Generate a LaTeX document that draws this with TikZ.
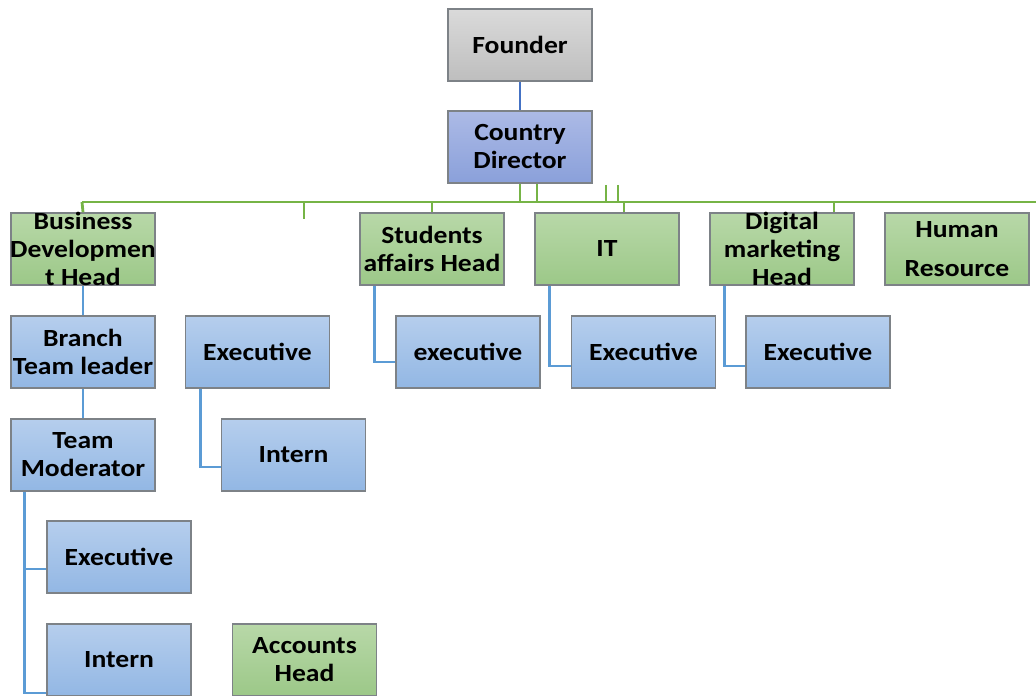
\documentclass[tikz,border=0pt]{standalone}
\usepackage{fontspec}
\setmainfont{Carlito}[FakeStretch=1.12]
\usetikzlibrary{calc}
\definecolor{greenTop}{RGB}{184,216,168}
\definecolor{greenBot}{RGB}{156,200,136}
\definecolor{blueTop}{RGB}{182,206,237}
\definecolor{blueBot}{RGB}{146,183,228}
\definecolor{grayTop}{RGB}{218,218,218}
\definecolor{grayBot}{RGB}{190,190,190}
\definecolor{dirTop}{RGB}{172,186,230}
\definecolor{dirBot}{RGB}{138,160,218}
\definecolor{boxedge}{RGB}{125,130,135}
\definecolor{busgreen}{RGB}{118,180,70}
\definecolor{linkblue}{RGB}{91,155,213}
\definecolor{topblue}{RGB}{68,114,196}
\begin{document}
\begin{tikzpicture}[x=0.75pt,y=-0.75pt,
  box/.style={draw=boxedge, line width=1.2pt, minimum width=108pt, minimum height=54pt, inner sep=0pt, shading angle=0},
  gbox/.style={box, top color=greenTop, bottom color=greenBot},
  bbox/.style={box, top color=blueTop, bottom color=blueBot},
  fbox/.style={box, top color=grayTop, bottom color=grayBot},
  dbox/.style={box, top color=dirTop, bottom color=dirBot},
  lbl/.style={font=\bfseries\fontsize{18.5}{21}\selectfont, align=center, text=black, inner sep=0pt},
  bus/.style={draw=busgreen, line width=2.1pt},
  link/.style={draw=linkblue, line width=2.1pt}]
\useasboundingbox (0,0) rectangle (1036,696);

% boxes
\node[fbox] (founder) at (520,45) {};
\node[dbox] (cd) at (520,147) {};
\node[gbox] (bdh) at (83,249) {};
\node[gbox] (sah) at (432,249) {};
\node[gbox] (it) at (607,249) {};
\node[gbox] (dmh) at (782,249) {};
\node[gbox] (hr) at (957,249) {};
\node[bbox] (btl) at (83,352) {};
\node[bbox] (exa) at (257.5,352) {};
\node[bbox] (exb) at (468,352) {};
\node[bbox] (exc) at (643.5,352) {};
\node[bbox] (exd) at (818,352) {};
\node[bbox] (tm) at (83,455) {};
\node[bbox] (inta) at (293.5,455) {};
\node[bbox] (exe) at (119,557) {};
\node[bbox] (intb) at (119,660) {};
\node[gbox] (acc) at (304.5,660) {};

% founder to director
\draw[draw=topblue, line width=2.1pt] (founder.south) -- (cd.north);

% green bus under the director
\coordinate (busw) at (82,202);
\coordinate (buse) at (1040,202);
\coordinate (stub) at (304,219);
\draw[bus] (busw) -- (buse);
\draw[bus] (cd.south) -- (cd.south |- busw);
\draw[bus] ($(cd.south)+(17,0)$) -- ($(cd.south |- busw)+(17,0)$);
\draw[bus] ($(cd.south)+(86,1)$) -- ($(cd.south |- busw)+(86,0)$);
\draw[bus] ($(cd.south)+(98,1)$) -- ($(cd.south |- busw)+(98,0)$);
\draw[bus] (busw) -- (bdh.north);
\draw[bus] (stub |- busw) -- (stub);
\draw[bus] (sah.north |- busw) -- (sah.north);
\draw[bus] ($(it.north |- busw)+(17,0)$) -- ($(it.north)+(17,0)$);
\draw[bus] ($(dmh.north |- busw)+(52,0)$) -- ($(dmh.north)+(52,0)$);

% blue reporting lines
\draw[link] (bdh.south) -- (btl.north);
\draw[link] (btl.south) -- (tm.north);
\draw[link] ($(exa.south west)+(16,0)$) |- ($(inta.west)+(0,12)$);
\draw[link] ($(sah.south west)+(15,0)$) |- ($(exb.west)+(0,10)$);
\draw[link] ($(it.south west)+(15,0)$) |- ($(exc.west)+(0,14)$);
\draw[link] ($(dmh.south west)+(15,0)$) |- ($(exd.west)+(0,14)$);
\draw[link] ($(tm.south west)+(14,0)$) |- ($(exe.west)+(0,12)$);
\draw[link] ($(tm.south west)+(14,0)$) |- ($(intb.west)+(0,33)$);

% labels
\node[lbl] (tfounder) at (founder) {Founder};
\node[lbl] (tcd) at (cd) {Country\\Director};
\node[lbl] (tbdh) at (bdh) {Business\\Developmen\\t Head};
\node[lbl] (tsah) at (sah) {Students\\affairs Head};
\node[lbl] (tit) at (it) {IT};
\node[lbl] (tdmh) at (dmh) {Digital\\marketing\\Head};
\node[lbl] (thr) at (hr) {Human\\[8pt]Resource};
\node[lbl] (tbtl) at (btl) {Branch\\Team leader};
\node[lbl] (texa) at (exa) {Executive};
\node[lbl] (texb) at (exb) {executive};
\node[lbl] (texc) at (exc) {Executive};
\node[lbl] (texd) at (exd) {Executive};
\node[lbl] (ttm) at (tm) {Team\\Moderator};
\node[lbl] (tinta) at (inta) {Intern};
\node[lbl] (texe) at (exe) {Executive};
\node[lbl] (tintb) at (intb) {Intern};
\node[lbl] (tacc) at (acc) {Accounts\\Head};
\end{tikzpicture}
\end{document}
